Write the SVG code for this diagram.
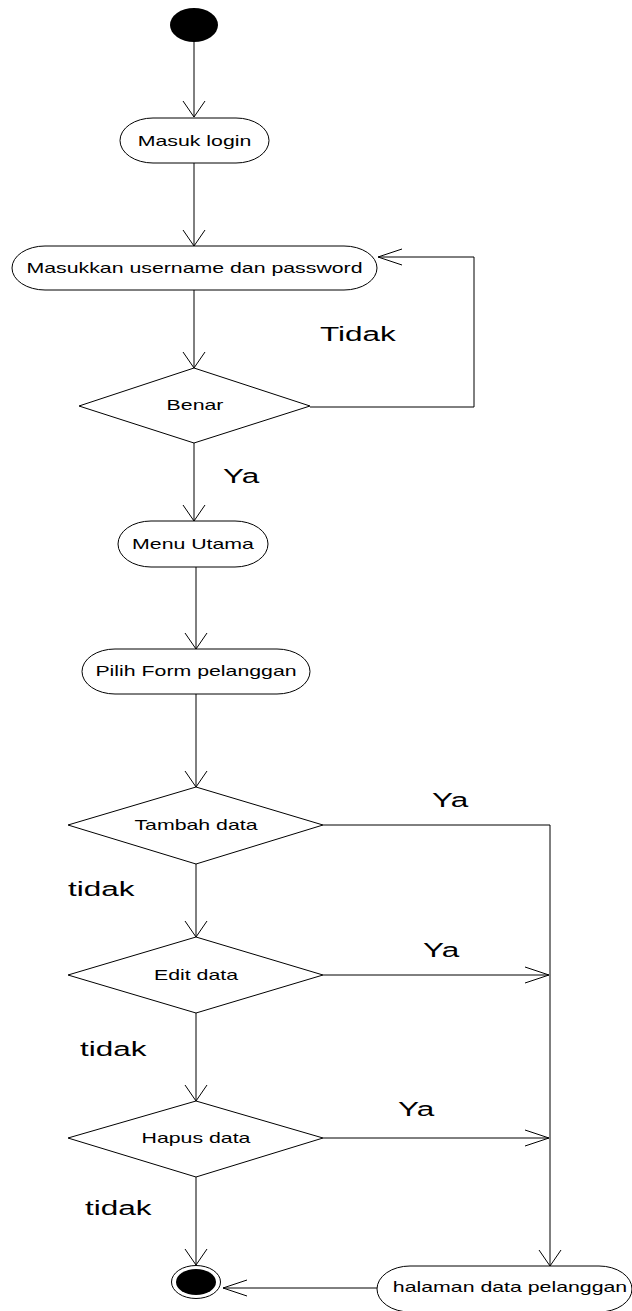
<svg xmlns="http://www.w3.org/2000/svg" width="632" height="1311" viewBox="0 0 632 1311">
  <style>
    .shape { fill: #fff; stroke: #000; stroke-width: 1; }
    .edge { fill: none; stroke: #000; stroke-width: 1; }
    .head { fill: none; stroke: #000; stroke-width: 1; }
    .nt { font-family: "Liberation Sans", Arial, sans-serif; font-size: 14.2px; fill: #000; text-anchor: middle; }
    .lb { font-family: "Liberation Sans", Arial, sans-serif; font-size: 21px; fill: #000; }
  </style>
  <rect width="632" height="1311" fill="#fff"/>

  <!-- connectors -->
  <g id="connectors">
    <path class="edge" d="M194 42 V117"/>
    <path class="head" d="M183 101 L194 117 L205 101"/>
    <path class="edge" d="M194 163 V246"/>
    <path class="head" d="M183 230 L194 246 L205 230"/>
    <path class="edge" d="M194 290 V368"/>
    <path class="head" d="M183 352 L194 368 L205 352"/>
    <!-- Tidak loop back -->
    <path class="edge" d="M310 407 H474 V257 H378"/>
    <path class="head" d="M402 249 L378 257 L402 265"/>
    <path class="edge" d="M194 443 V521"/>
    <path class="head" d="M183 505 L194 521 L205 505"/>
    <path class="edge" d="M196 567 V649"/>
    <path class="head" d="M185 633 L196 649 L207 633"/>
    <path class="edge" d="M196 694 V787"/>
    <path class="head" d="M185 771 L196 787 L207 771"/>
    <path class="edge" d="M196 864 V937"/>
    <path class="head" d="M185 921 L196 937 L207 921"/>
    <path class="edge" d="M196 1013 V1101"/>
    <path class="head" d="M185 1085 L196 1101 L207 1085"/>
    <path class="edge" d="M196 1177 V1265"/>
    <path class="head" d="M185 1249 L196 1265 L207 1249"/>
    <!-- Ya branches -->
    <path class="edge" d="M323 825 H550 V1266"/>
    <path class="head" d="M539 1250 L550 1266 L561 1250"/>
    <path class="edge" d="M323 975 H549"/>
    <path class="head" d="M525 967 L549 975 L525 983"/>
    <path class="edge" d="M323 1138 H549"/>
    <path class="head" d="M525 1130 L549 1138 L525 1146"/>
    <path class="edge" d="M377 1288 H223"/>
    <path class="head" d="M247 1280 L223 1288 L247 1296"/>
  </g>

  <!-- edge labels -->
  <g id="labels">
    <text class="lb" transform="matrix(1.5 0 0 1 320 341)">Tidak</text>
    <text class="lb" transform="matrix(1.5 0 0 1 223 483)">Ya</text>
    <text class="lb" transform="matrix(1.5 0 0 1 432 807)">Ya</text>
    <text class="lb" transform="matrix(1.5 0 0 1 68 896)">tidak</text>
    <text class="lb" transform="matrix(1.5 0 0 1 423 957)">Ya</text>
    <text class="lb" transform="matrix(1.5 0 0 1 80 1056)">tidak</text>
    <text class="lb" transform="matrix(1.5 0 0 1 398 1116)">Ya</text>
    <text class="lb" transform="matrix(1.5 0 0 1 85 1215)">tidak</text>
  </g>

  <g id="start">
    <ellipse cx="194" cy="25" rx="24" ry="17" fill="#000"/>
  </g>

  <g id="masuk-login">
    <rect class="shape" x="120" y="118" width="149" height="45" rx="33" ry="22.5"/>
    <text class="nt" transform="matrix(1.5 0 0 1 194.5 146)">Masuk login</text>
  </g>

  <g id="masukkan-username">
    <rect class="shape" x="12" y="246" width="365" height="44" rx="33" ry="22"/>
    <text class="nt" transform="matrix(1.5 0 0 1 194.5 273)">Masukkan username dan password</text>
  </g>

  <g id="benar">
    <polygon class="shape" points="194,368 310,406 194,443 79,406"/>
    <text class="nt" transform="matrix(1.5 0 0 1 195 410)">Benar</text>
  </g>

  <g id="menu-utama">
    <rect class="shape" x="118" y="521" width="150" height="46" rx="33" ry="23"/>
    <text class="nt" transform="matrix(1.5 0 0 1 193 549)">Menu Utama</text>
  </g>

  <g id="pilih-form">
    <rect class="shape" x="82" y="649" width="228" height="45" rx="33" ry="22.5"/>
    <text class="nt" transform="matrix(1.5 0 0 1 196 676)">Pilih Form pelanggan</text>
  </g>

  <g id="tambah-data">
    <polygon class="shape" points="196,787 323,825 196,864 68,825"/>
    <text class="nt" transform="matrix(1.5 0 0 1 196 830)">Tambah data</text>
  </g>

  <g id="edit-data">
    <polygon class="shape" points="196,937 323,975 196,1013 68,975"/>
    <text class="nt" transform="matrix(1.5 0 0 1 196 980)">Edit data</text>
  </g>

  <g id="hapus-data">
    <polygon class="shape" points="196,1101 323,1138 196,1177 68,1138"/>
    <text class="nt" transform="matrix(1.5 0 0 1 196 1143)">Hapus data</text>
  </g>

  <g id="halaman-data-pelanggan">
    <rect class="shape" x="377" y="1266" width="255" height="46" rx="33" ry="23"/>
    <text class="nt" transform="matrix(1.5 0 0 1 510 1292)">halaman data pelanggan</text>
  </g>

  <g id="end">
    <ellipse cx="196" cy="1282" rx="24.5" ry="16.5" fill="#fff" stroke="#000" stroke-width="1"/>
    <ellipse cx="196" cy="1282" rx="20" ry="13" fill="#000"/>
  </g>
</svg>
